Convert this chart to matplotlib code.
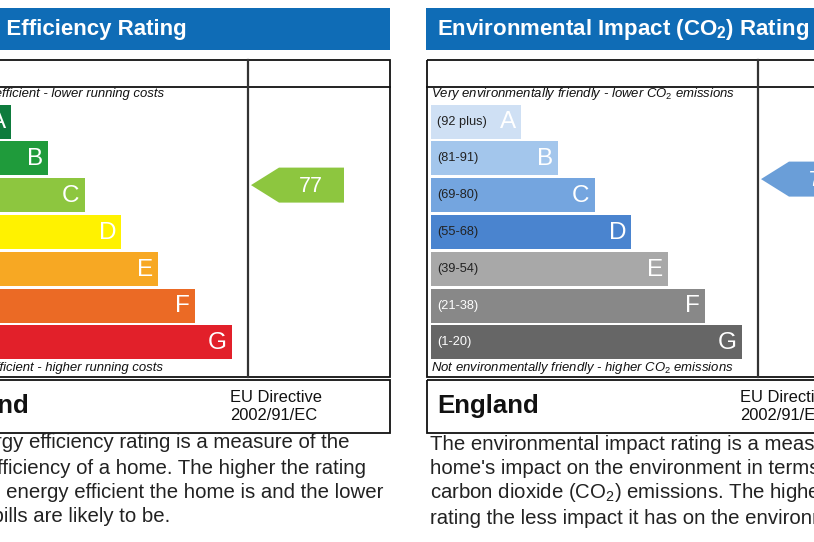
import matplotlib
matplotlib.use("Agg")
import matplotlib.pyplot as plt
from matplotlib.patches import Rectangle, Polygon

plt.rcParams['font.family'] = ['Liberation Sans', 'DejaVu Sans']
plt.rcParams['mathtext.fontset'] = 'custom'
plt.rcParams['mathtext.rm'] = 'Liberation Sans'
plt.rcParams['mathtext.it'] = 'Liberation Sans:italic'
plt.rcParams['mathtext.bf'] = 'Liberation Sans:bold'

# ---- data ----
bands = ['A', 'B', 'C', 'D', 'E', 'F', 'G']
band_ranges = ['(92 plus)', '(81-91)', '(69-80)', '(55-68)', '(39-54)', '(21-38)', '(1-20)']
band_min = [92, 81, 69, 55, 39, 21, 1]
energy_rating = 77
env_rating = 77

energy_colors = ['#0e7b3d', '#1f9b3b', '#8dc63f', '#fff200', '#f7a823', '#eb6a25', '#e2202a']
env_colors = ['#cfe0f4', '#a3c6ec', '#74a5df', '#4a84cf', '#a8a8a8', '#888888', '#666666']
env_label_colors = ['#222222', '#222222', '#222222', '#222222', '#222222', 'white', 'white']

energy_title = 'Energy Efficiency Rating'
env_title = r'Environmental Impact (CO$_\mathbf{2}$) Rating'
energy_top = 'Very energy efficient - lower running costs'
energy_bottom = 'Not energy efficient - higher running costs'
env_top = r'Very environmentally friendly - lower CO$_\mathit{2}$ emissions'
env_bottom = r'Not environmentally friendly - higher CO$_\mathit{2}$ emissions'
energy_body = ['The energy efficiency rating is a measure of the',
               'overall efficiency of a home. The higher the rating',
               'the more energy efficient the home is and the lower',
               'the fuel bills are likely to be.']
env_body = ['The environmental impact rating is a measure of a',
            "home's impact on the environment in terms of",
            r'carbon dioxide (CO$_2$) emissions. The higher the',
            'rating the less impact it has on the environment.']
country = 'England'
directive = ['EU Directive', '2002/91/EC']


def band_index(r):
    for i, m in enumerate(band_min):
        if r >= m:
            return i
    return len(band_min) - 1


fig = plt.figure(figsize=(8.14, 5.42), dpi=100)
ax = fig.add_axes([0, 0, 1, 1])
ax.set_xlim(0, 814)
ax.set_ylim(542, 0)
ax.axis('off')

HEADER_BLUE = '#0f6cb6'


def draw_panel(x0, title, title_dx, top_note, bottom_note, colors, show_ranges, rating,
               arrow_color, arrow_dy, body_lines, body_ys):
    W = 473
    div = x0 + 331
    # header
    ax.add_patch(Rectangle((x0 - 1, 8), W + 1, 42, color=HEADER_BLUE, lw=0))
    ax.text(x0 + title_dx, 29, title, color='white', fontsize=16, fontweight='bold',
            va='center', ha='left')
    # main box
    ax.add_patch(Rectangle((x0, 60), W, 317, fill=False, ec='#111111', lw=1.3))
    ax.plot([x0, x0 + W], [87, 87], color='#111111', lw=1.3)
    ax.plot([div, div], [60, 377], color='#333333', lw=1.6)
    # notes
    ax.text(x0 + 4, 94.5, top_note, fontsize=9.45, style='italic', va='center',
            ha='left', color='#111111')
    ax.text(x0 + 4, 368.5, bottom_note, fontsize=9.45, style='italic', va='center',
            ha='left', color='#111111')
    # bars
    pitch = 36.8
    ys = [121.5 + pitch * i for i in range(len(bands))]
    widths = [90 + 36.8 * i for i in range(len(bands))]
    ax.barh(ys, widths, left=x0 + 4, height=34, color=colors, lw=0)
    for i, b in enumerate(bands):
        ax.text(x0 + 4 + widths[i] - 5, ys[i] + 1, b, color='white', fontsize=17.5,
                ha='right', va='center')
        if show_ranges:
            ax.text(x0 + 10, ys[i], band_ranges[i], color=env_label_colors[i],
                    fontsize=9.2, ha='left', va='center')
    # arrow
    bi = band_index(rating)
    cy = ys[bi] + arrow_dy
    tip = div + 3
    h = 17.5
    ax.add_patch(Polygon([(tip, cy), (tip + 28, cy - h), (tip + 93, cy - h),
                          (tip + 93, cy + h), (tip + 28, cy + h)],
                         closed=True, color=arrow_color, lw=0))
    ax.text(tip + 60, cy + 1, str(rating), color='white', fontsize=15.5,
            ha='center', va='center')
    # country box
    ax.add_patch(Rectangle((x0, 380), W, 53, fill=False, ec='#111111', lw=1.3))
    ax.text(x0 + 10, 406, country, fontsize=18.6, fontweight='bold', va='center',
            ha='left', color='#111111')
    ax.text(x0 + 313, 397, directive[0], fontsize=11.9, va='center', ha='left',
            color='#111111')
    ax.text(x0 + 313, 415, directive[1], fontsize=11.9, va='center', ha='left',
            color='#111111')
    # body
    for line, y in zip(body_lines, body_ys):
        ax.text(x0 + 3, y, line, fontsize=14.65, va='center', ha='left',
                color='#222222')


draw_panel(-83, energy_title, 8, energy_top, energy_bottom, energy_colors, False,
           energy_rating, '#8dc63f', -10, energy_body, [443, 468, 493, 516])
draw_panel(427, env_title, 10, env_top, env_bottom, env_colors, True,
           env_rating, '#6a9ed8', -16, env_body, [445, 469, 493, 519])

fig.savefig('out.png', dpi=100)
